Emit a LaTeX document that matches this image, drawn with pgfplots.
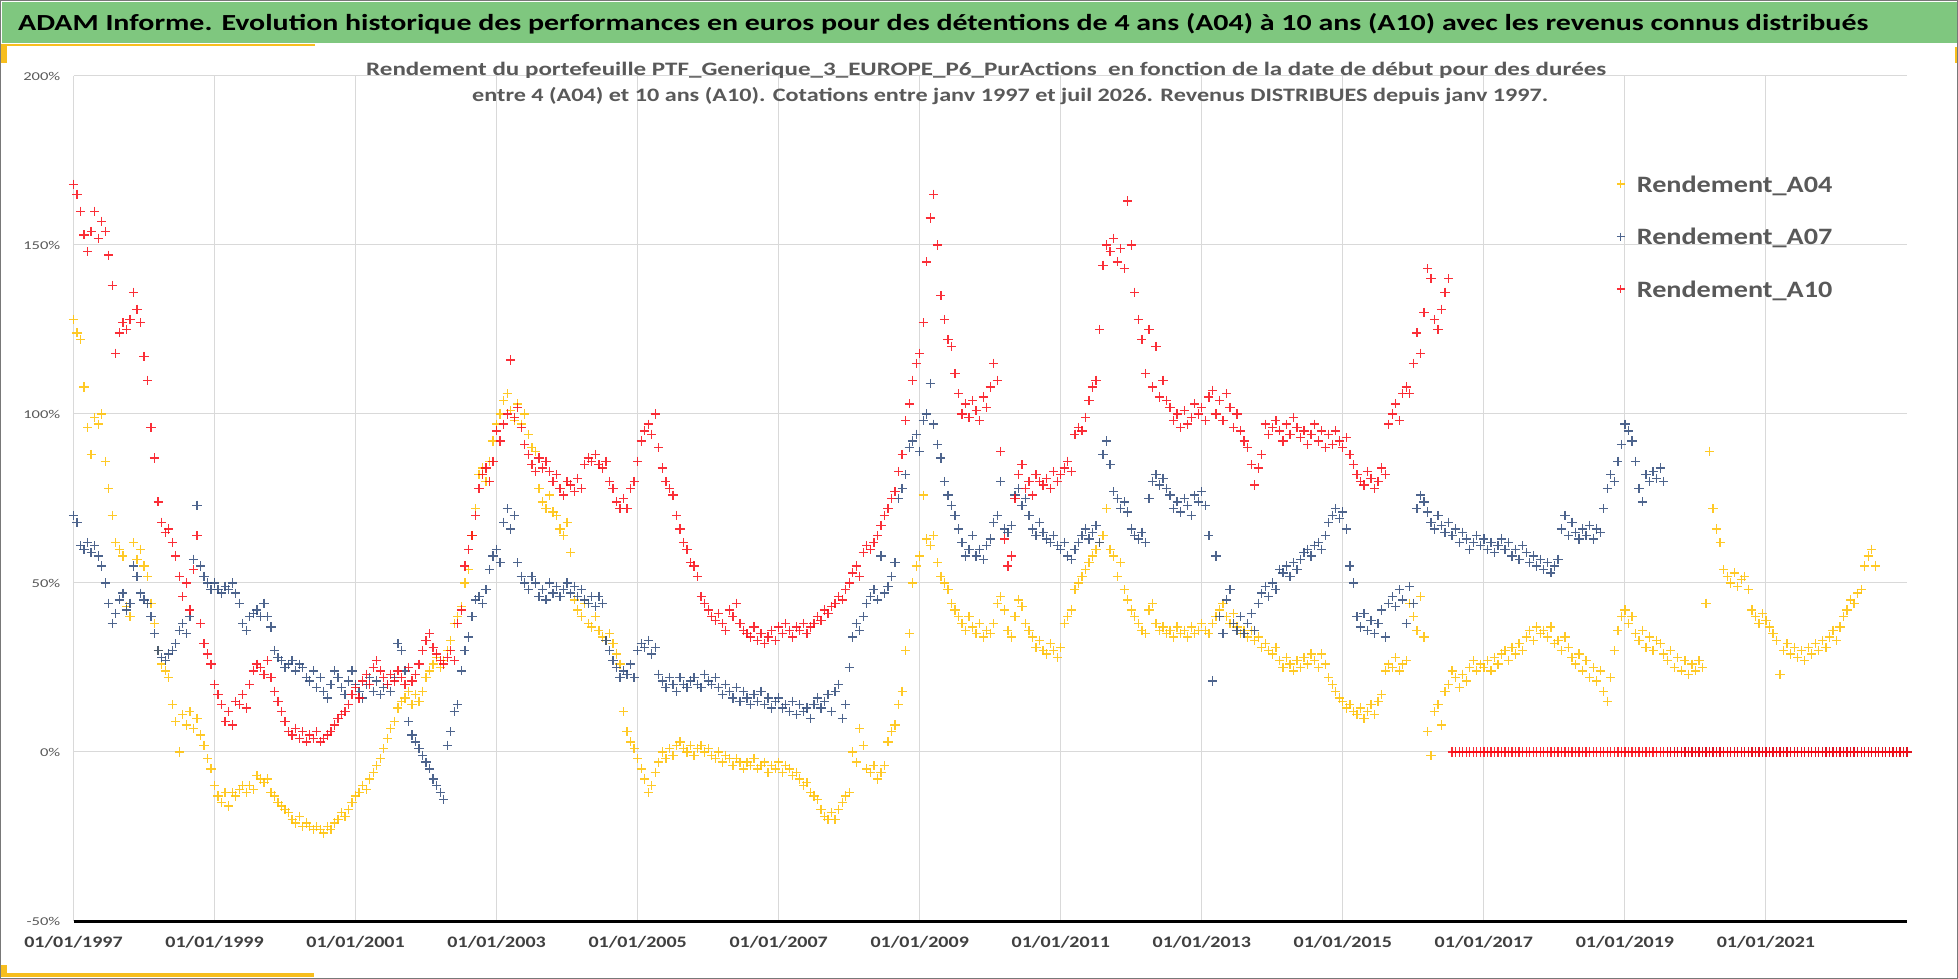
\documentclass[border=0pt]{standalone}
\usepackage{pgfplots}
\pgfplotsset{compat=1.18}
\usepackage{pgfplotstable}
\usepackage{graphicx}
\usepackage{fontspec}
\setmainfont{Carlito}

\definecolor{a04c}{RGB}{255,192,0}
\definecolor{a07c}{RGB}{47,74,122}
\definecolor{a10c}{RGB}{250,10,20}
\definecolor{barg}{RGB}{127,199,127}
\definecolor{txtg}{RGB}{89,89,89}
\definecolor{xlab}{RGB}{64,64,64}
\definecolor{gridg}{RGB}{217,217,217}
\definecolor{yel}{RGB}{247,190,30}
\definecolor{frameg}{RGB}{120,120,120}

\pgfplotstableread{
t A04 A07 A10
1997.00 128 70 168
1997.05 124 68 165
1997.10 122 61 160
1997.15 108 60 153
1997.20 96 62 148
1997.25 88 59 154
1997.30 99 61 160
1997.35 97 58 152
1997.40 100 55 157
1997.45 86 50 154
1997.50 78 44 147
1997.55 70 38 138
1997.60 62 41 118
1997.65 60 45 124
1997.70 58 47 127
1997.75 43 42 125
1997.80 40 44 128
1997.85 62 55 136
1997.90 57 52 131
1997.95 60 47 127
1998.00 55 45 117
1998.05 52 44 110
1998.10 44 40 96
1998.15 38 35 87
1998.20 30 30 74
1998.25 26 28 68
1998.30 24 27 65
1998.35 22 29 66
1998.40 14 30 62
1998.45 9 32 58
1998.50 0 36 52
1998.55 11 38 46
1998.60 8 35 50
1998.65 12 40 42
1998.70 7 57 54
1998.75 10 73 64
1998.80 5 55 38
1998.85 2 52 32
1998.90 -2 50 29
1998.95 -5 48 26
1999.00 -10 50 20
1999.05 -13 48 17
1999.10 -15 47 14
1999.15 -12 49 9
1999.20 -16 48 12
1999.25 -12 50 8
1999.30 -13 47 15
1999.35 -11 44 14
1999.40 -10 38 17
1999.45 -12 36 13
1999.50 -10 40 20
1999.55 -11 41 24
1999.60 -7 42 26
1999.65 -8 40 25
1999.70 -9 44 23
1999.75 -8 40 27
1999.80 -12 37 22
1999.85 -13 30 18
1999.90 -15 28 15
1999.95 -16 27 12
2000.00 -17 25 9
2000.05 -18 26 6
2000.10 -20 27 5
2000.15 -21 24 7
2000.20 -19 26 4
2000.25 -22 25 6
2000.30 -21 22 3
2000.35 -22 21 5
2000.40 -23 24 4
2000.45 -22 19 6
2000.50 -23 22 3
2000.55 -24 18 4
2000.60 -22 16 5
2000.65 -23 20 6
2000.70 -21 24 8
2000.75 -20 22 10
2000.80 -18 19 11
2000.85 -19 17 12
2000.90 -17 21 14
2000.95 -15 24 17
2001.00 -13 20 19
2001.05 -12 18 16
2001.10 -10 16 21
2001.15 -11 20 23
2001.20 -8 22 20
2001.25 -6 18 25
2001.30 -4 21 27
2001.35 -2 17 24
2001.40 1 19 22
2001.45 4 20 20
2001.50 7 18 23
2001.55 9 22 21
2001.60 13 32 24
2001.65 15 30 22
2001.70 16 24 20
2001.75 18 9 25
2001.80 14 5 21
2001.85 17 3 23
2001.90 15 1 26
2001.95 18 -1 30
2002.00 22 -3 33
2002.05 24 -5 35
2002.10 26 -8 31
2002.15 28 -10 29
2002.20 25 -12 27
2002.25 27 -14 26
2002.30 30 2 28
2002.35 33 6 30
2002.40 38 12 27
2002.45 40 14 38
2002.50 43 24 42
2002.55 50 30 55
2002.60 54 34 60
2002.65 64 40 64
2002.70 72 45 70
2002.75 82 46 78
2002.80 84 44 82
2002.85 80 48 84
2002.90 86 54 80
2002.95 92 58 86
2003.00 97 60 95
2003.05 100 56 92
2003.10 104 68 97
2003.15 106 72 100
2003.20 101 66 116
2003.25 98 70 99
2003.30 103 56 102
2003.35 97 52 96
2003.40 100 50 91
2003.45 94 48 88
2003.50 90 52 85
2003.55 89 50 83
2003.60 78 46 87
2003.65 74 48 84
2003.70 72 45 86
2003.75 76 50 83
2003.80 71 47 80
2003.85 70 49 82
2003.90 66 46 78
2003.95 64 48 76
2004.00 68 50 80
2004.05 59 47 79
2004.10 45 49 77
2004.15 42 46 81
2004.20 40 48 78
2004.25 44 45 85
2004.30 38 44 87
2004.35 37 46 86
2004.40 40 43 88
2004.45 36 46 85
2004.50 34 44 84
2004.55 33 33 86
2004.60 35 30 80
2004.65 32 27 78
2004.70 29 25 74
2004.75 26 22 72
2004.80 12 24 75
2004.85 6 23 72
2004.90 3 26 78
2004.95 1 22 80
2005.00 -2 30 86
2005.05 -5 32 92
2005.10 -8 31 95
2005.15 -12 33 97
2005.20 -10 29 94
2005.25 -6 31 100
2005.30 -3 23 90
2005.35 0 21 84
2005.40 -2 19 80
2005.45 1 22 78
2005.50 -1 20 76
2005.55 2 18 70
2005.60 3 22 66
2005.65 1 20 62
2005.70 0 19 60
2005.75 2 21 56
2005.80 -1 22 55
2005.85 1 20 52
2005.90 2 19 46
2005.95 0 23 44
2006.00 1 21 42
2006.05 -1 20 40
2006.10 -2 22 39
2006.15 0 19 41
2006.20 -3 17 38
2006.25 -1 20 36
2006.30 -2 18 42
2006.35 -4 16 40
2006.40 -2 19 44
2006.45 -3 15 38
2006.50 -5 18 36
2006.55 -3 16 35
2006.60 -4 14 34
2006.65 -2 17 37
2006.70 -5 15 33
2006.75 -4 18 35
2006.80 -3 14 32
2006.85 -6 16 34
2006.90 -4 13 36
2006.95 -5 15 33
2007.00 -3 16 37
2007.05 -6 13 35
2007.10 -4 14 38
2007.15 -5 12 36
2007.20 -7 15 34
2007.25 -6 11 37
2007.30 -8 14 36
2007.35 -10 12 38
2007.40 -9 13 35
2007.45 -12 10 37
2007.50 -13 14 38
2007.55 -14 16 40
2007.60 -17 13 39
2007.65 -19 15 42
2007.70 -20 17 41
2007.75 -18 12 43
2007.80 -20 18 44
2007.85 -17 20 46
2007.90 -15 10 45
2007.95 -13 14 48
2008.00 -12 25 50
2008.05 0 34 53
2008.10 -3 38 55
2008.15 7 36 52
2008.20 2 40 59
2008.25 -5 44 61
2008.30 -6 46 60
2008.35 -4 48 62
2008.40 -8 45 64
2008.45 -6 58 67
2008.50 -4 47 70
2008.55 3 49 72
2008.60 6 52 75
2008.65 8 56 77
2008.70 14 75 83
2008.75 18 78 88
2008.80 30 82 98
2008.85 35 90 103
2008.90 50 92 110
2008.95 55 94 115
2009.00 58 89 118
2009.05 76 98 127
2009.10 63 100 145
2009.15 61 109 158
2009.20 64 97 165
2009.25 56 91 150
2009.30 52 87 135
2009.35 50 80 128
2009.40 48 76 122
2009.45 44 73 120
2009.50 42 70 112
2009.55 40 66 106
2009.60 38 62 100
2009.65 36 58 103
2009.70 40 60 99
2009.75 37 64 104
2009.80 35 58 101
2009.85 38 60 98
2009.90 34 57 105
2009.95 36 61 102
2010.00 35 63 108
2010.05 38 68 115
2010.10 44 70 110
2010.15 46 80 89
2010.20 42 66 63
2010.25 36 65 55
2010.30 34 67 58
2010.35 40 76 75
2010.40 45 78 82
2010.45 43 73 85
2010.50 38 75 78
2010.55 36 70 80
2010.60 34 66 76
2010.65 31 64 82
2010.70 33 68 80
2010.75 30 65 79
2010.80 29 63 81
2010.85 32 62 78
2010.90 30 64 83
2010.95 28 61 80
2011.00 31 60 82
2011.05 38 62 84
2011.10 40 58 86
2011.15 42 57 83
2011.20 48 60 94
2011.25 50 62 96
2011.30 52 64 95
2011.35 54 66 99
2011.40 56 63 104
2011.45 58 65 108
2011.50 60 67 110
2011.55 62 62 125
2011.60 64 88 144
2011.65 72 92 150
2011.70 60 85 148
2011.75 58 77 152
2011.80 52 75 145
2011.85 56 72 149
2011.90 48 74 143
2011.95 45 71 163
2012.00 42 66 150
2012.05 40 64 136
2012.10 38 63 128
2012.15 36 65 122
2012.20 35 62 112
2012.25 42 75 125
2012.30 44 80 108
2012.35 38 82 120
2012.40 36 79 105
2012.45 37 81 110
2012.50 35 78 104
2012.55 36 76 102
2012.60 34 72 98
2012.65 37 74 100
2012.70 35 71 96
2012.75 36 75 101
2012.80 34 73 97
2012.85 37 70 99
2012.90 35 76 103
2012.95 36 74 100
2013.00 38 77 102
2013.05 36 73 98
2013.10 35 64 105
2013.15 38 21 107
2013.20 40 58 100
2013.25 42 40 104
2013.30 44 35 98
2013.35 40 45 106
2013.40 38 48 102
2013.45 41 38 96
2013.50 37 36 100
2013.55 35 40 95
2013.60 36 35 92
2013.65 34 38 90
2013.70 36 41 85
2013.75 33 36 79
2013.80 34 44 84
2013.85 31 47 88
2013.90 32 49 97
2013.95 30 46 94
2014.00 29 50 96
2014.05 31 48 98
2014.10 27 54 95
2014.15 25 53 92
2014.20 28 55 97
2014.25 26 52 94
2014.30 24 56 99
2014.35 27 54 96
2014.40 25 57 93
2014.45 28 59 95
2014.50 26 60 91
2014.55 29 58 94
2014.60 27 61 97
2014.65 25 62 92
2014.70 29 60 95
2014.75 26 64 90
2014.80 22 68 94
2014.85 20 70 91
2014.90 18 72 95
2014.95 16 69 92
2015.00 15 71 90
2015.05 13 66 93
2015.10 14 55 88
2015.15 12 50 85
2015.20 11 40 82
2015.25 13 37 80
2015.30 10 41 79
2015.35 12 36 83
2015.40 14 39 81
2015.45 11 35 78
2015.50 15 38 80
2015.55 17 42 84
2015.60 24 34 82
2015.65 26 44 97
2015.70 25 46 100
2015.75 28 43 103
2015.80 24 48 98
2015.85 26 45 106
2015.90 27 38 108
2015.95 44 49 106
2016.00 40 44 115
2016.05 36 72 124
2016.10 46 76 118
2016.15 34 74 130
2016.20 6 71 143
2016.25 -1 68 140
2016.30 12 66 128
2016.35 14 70 125
2016.40 8 67 131
2016.45 18 65 136
2016.50 20 68 140
2016.55 24 64 0
2016.60 22 66 0
2016.65 19 62 0
2016.70 23 65 0
2016.75 21 63 0
2016.80 25 60 0
2016.85 27 62 0
2016.90 24 64 0
2016.95 26 61 0
2017.00 25 63 0
2017.05 27 60 0
2017.10 24 62 0
2017.15 28 59 0
2017.20 26 61 0
2017.25 29 63 0
2017.30 30 60 0
2017.35 27 62 0
2017.40 31 58 0
2017.45 29 60 0
2017.50 32 57 0
2017.55 30 61 0
2017.60 34 59 0
2017.65 36 56 0
2017.70 33 58 0
2017.75 37 55 0
2017.80 35 57 0
2017.85 36 54 0
2017.90 34 56 0
2017.95 37 53 0
2018.00 32 55 0
2018.05 33 57 0
2018.10 30 66 0
2018.15 34 70 0
2018.20 31 64 0
2018.25 28 68 0
2018.30 26 65 0
2018.35 29 63 0
2018.40 24 66 0
2018.45 27 64 0
2018.50 22 67 0
2018.55 25 63 0
2018.60 21 66 0
2018.65 24 65 0
2018.70 18 72 0
2018.75 15 78 0
2018.80 22 82 0
2018.85 30 80 0
2018.90 36 86 0
2018.95 40 91 0
2019.00 42 97 0
2019.05 38 95 0
2019.10 40 92 0
2019.15 35 86 0
2019.20 33 78 0
2019.25 36 74 0
2019.30 31 82 0
2019.35 34 80 0
2019.40 30 83 0
2019.45 33 81 0
2019.50 32 84 0
2019.55 29 80 0
2019.60 27 0 0
2019.65 30 0 0
2019.70 25 0 0
2019.75 28 0 0
2019.80 24 0 0
2019.85 27 0 0
2019.90 23 0 0
2019.95 26 0 0
2020.00 24 0 0
2020.05 27 0 0
2020.10 25 0 0
2020.15 44 0 0
2020.20 89 0 0
2020.25 72 0 0
2020.30 66 0 0
2020.35 62 0 0
2020.40 54 0 0
2020.45 52 0 0
2020.50 50 0 0
2020.55 53 0 0
2020.60 49 0 0
2020.65 51 0 0
2020.70 52 0 0
2020.75 48 0 0
2020.80 42 0 0
2020.85 40 0 0
2020.90 38 0 0
2020.95 41 0 0
2021.00 39 0 0
2021.05 37 0 0
2021.10 35 0 0
2021.15 33 0 0
2021.20 23 0 0
2021.25 30 0 0
2021.30 32 0 0
2021.35 29 0 0
2021.40 31 0 0
2021.45 28 0 0
2021.50 30 0 0
2021.55 27 0 0
2021.60 31 0 0
2021.65 29 0 0
2021.70 32 0 0
2021.75 30 0 0
2021.80 33 0 0
2021.85 31 0 0
2021.90 34 0 0
2021.95 36 0 0
2022.00 33 0 0
2022.05 37 0 0
2022.10 40 0 0
2022.15 42 0 0
2022.20 45 0 0
2022.25 44 0 0
2022.30 47 0 0
2022.35 48 0 0
2022.40 55 0 0
2022.45 58 0 0
2022.50 60 0 0
2022.55 55 0 0
2022.60 0 0 0
2022.65 0 0 0
2022.70 0 0 0
2022.75 0 0 0
2022.80 0 0 0
2022.85 0 0 0
2022.90 0 0 0
2022.95 0 0 0
2023.00 0 0 0
}\data

\newcommand\xl[1]{\scalebox{1.25}[1]{01/01/#1}}
\newcommand\yl[1]{\scalebox{1.38}[1]{#1}}
\newcommand\lgt[1]{\scalebox{1.2}[1]{#1}}

\begin{document}
\begin{tikzpicture}
\path[use as bounding box] (0pt,0pt) rectangle (1958pt,979pt);
\fill[white] (0pt,0pt) rectangle (1958pt,979pt);
\fill[barg] (1.5pt,935.7pt) rectangle (1956.5pt,977pt);
\fill[yel] (0pt,932.7pt) rectangle (315pt,934.9pt);
\fill[yel] (0pt,916pt) rectangle (6.5pt,934.9pt);
\fill[yel] (1954.5pt,916pt) rectangle (1958pt,932pt);
\fill[yel] (0pt,2pt) rectangle (314pt,6pt);
\fill[yel] (0pt,2pt) rectangle (6.5pt,14pt);
\draw[frameg, line width=1.2pt] (0.6pt,0.6pt) rectangle (1957.4pt,978.4pt);
\node[anchor=base west, inner sep=0pt] at (18pt,948.3pt)
  {\resizebox{1850pt}{\height}{\fontsize{23}{27}\selectfont\bfseries ADAM Informe. Evolution historique des performances en euros pour des détentions de 4 ans (A04) à 10 ans (A10) avec les revenus connus distribués}};

\begin{axis}[
  at={(73.5pt,58pt)}, anchor=south west,
  scale only axis, width=1833.5pt, height=845pt,
  xmin=1997, xmax=2023, ymin=-50, ymax=200,
  clip=false,
  axis x line*=bottom, axis y line*=left,
  x axis line style={-, line width=3pt, black},
  y axis line style={draw=none},
  major tick length=0pt,
  xtick={1997,1999,2001,2003,2005,2007,2009,2011,2013,2015,2017,2019,2021},
  xticklabels={\xl{1997},\xl{1999},\xl{2001},\xl{2003},\xl{2005},\xl{2007},\xl{2009},\xl{2011},\xl{2013},\xl{2015},\xl{2017},\xl{2019},\xl{2021}},
  ytick={-50,0,50,100,150,200},
  yticklabels={\yl{-50\%},\yl{0\%},\yl{50\%},\yl{100\%},\yl{150\%},\yl{200\%}},
  grid=major,
  major grid style={draw=gridg, line width=1pt},
  xticklabel style={anchor=north, inner sep=0pt, yshift=-15pt, font=\fontsize{16}{19}\selectfont\bfseries, text=xlab},
  yticklabel style={anchor=east, inner sep=0pt, xshift=-13pt, font=\fontsize{12}{14}\selectfont, text=txtg},
  legend style={at={(0.8416,0.8841)}, anchor=north west, draw=none, fill=none, inner sep=0pt,
    column sep=12pt, row sep=29.5pt,
    nodes={inner sep=0pt, text height=18pt, text depth=5pt, font=\fontsize{23.5}{28}\selectfont\bfseries, text=txtg}},
  legend cell align=left,
  legend image code/.code={\draw[#1, mark size=4pt] plot coordinates {(0pt,1.5pt)};},
]
\addplot[only marks, mark=+, color=a04c, mark size=4.6pt, mark options={line width=1.3pt, draw opacity=0.85}] table[x=t, y=A04] {\data};
\addlegendentry{\lgt{Rendement\_A04}}
\addplot[only marks, mark=+, color=a07c, mark size=4.6pt, mark options={line width=1.3pt, draw opacity=0.85}] table[x=t, y=A07] {\data};
\addlegendentry{\lgt{Rendement\_A07}}
\addplot[only marks, mark=+, color=a10c, mark size=4.6pt, mark options={line width=1.3pt, draw opacity=0.85}] table[x=t, y=A10] {\data};
\addlegendentry{\lgt{Rendement\_A10}}
\end{axis}

\node[anchor=base west, inner sep=0pt, text=txtg] at (366pt,903pt)
  {\resizebox{1240pt}{\height}{\fontsize{19}{23}\selectfont\bfseries Rendement du portefeuille PTF\_Generique\_3\_EUROPE\_P6\_PurActions\ \ en fonction de la date de début pour des durées}};
\node[anchor=base west, inner sep=0pt, text=txtg] at (472pt,877pt)
  {\resizebox{1076pt}{\height}{\fontsize{19}{23}\selectfont\bfseries entre 4 (A04) et 10 ans (A10). Cotations entre janv 1997 et juil 2026. Revenus DISTRIBUES depuis janv 1997.}};
\end{tikzpicture}
\end{document}
